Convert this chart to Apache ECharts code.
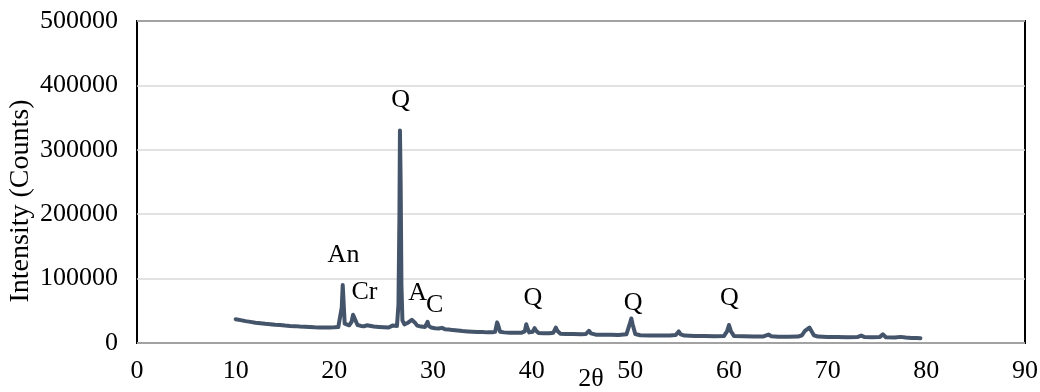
<!DOCTYPE html>
<html>
<head>
<meta charset="utf-8">
<script src="https://cdn.jsdelivr.net/npm/echarts@6/dist/echarts.min.js"></script>
<style>html,body{margin:0;padding:0;background:#fff}#c{width:1040px;height:392px}</style>
</head>
<body>
<div id="c"></div>
<script>
// 2θ positions of the pattern
const twoTheta = [10,10.5,11,11.5,12,12.5,13,13.5,14,14.5,15,15.5,16,16.5,17,17.5,18,18.5,19,19.5,20,20.4,20.6,20.75,20.85,20.95,21.05,21.2,21.5,21.75,21.9,22.0,22.15,22.35,22.7,23.0,23.3,23.5,24,24.5,25,25.5,25.9,26.1,26.35,26.5,26.6,26.65,26.72,26.8,26.9,27.1,27.4,27.6,27.85,28.0,28.15,28.4,28.8,29.2,29.35,29.45,29.55,29.8,30.2,30.6,30.9,31.2,31.6,32.0,32.5,33,33.5,34,34.5,35,35.5,36,36.3,36.5,36.6,36.8,37.2,37.8,38.4,39.0,39.3,39.45,39.55,39.75,40.1,40.3,40.45,40.7,41.2,41.8,42.2,42.45,42.6,42.9,43.5,44.2,45.0,45.5,45.8,46.0,46.5,47.2,48,48.8,49.6,49.95,50.1,50.25,50.5,51,52,53,54,54.6,54.9,55.1,55.5,56.5,57.5,58.5,59.5,59.8,60.0,60.2,60.5,61.5,62.5,63.5,64.0,64.3,65,66,67,67.4,67.7,67.9,68.15,68.3,68.6,69.0,70,71,72,73,73.4,73.7,74.5,75.3,75.6,75.9,76.8,77.4,77.6,77.9,78.5,79.0,79.4];
// Intensity (counts)
const intensity = [37000,35500,34000,32800,31500,30800,29800,29000,28200,27800,27000,26500,26200,25600,25200,24800,24400,24200,24000,24100,24300,24800,27000,55000,90000,60000,30000,27000,27500,33000,44000,45000,35000,28000,26500,26000,27500,26000,25500,25000,24500,24000,27000,26000,26500,60000,200000,330000,250000,90000,35000,29000,31000,30000,36000,37000,32000,27000,25500,25000,28000,33000,27000,24000,23000,22500,23500,21500,21000,20000,19500,18500,18000,17500,17000,17000,16500,16500,17500,32000,28000,17500,16500,16000,15800,16000,18000,29000,24000,16500,17500,23000,19000,15500,15000,15000,16000,24000,19000,14500,14000,14000,13500,14000,19000,15000,13000,12800,12800,12500,13500,30000,38000,28000,14000,12000,11800,11500,11500,12500,18000,13500,11500,11000,10800,10600,11000,18000,28000,18000,11000,10500,10000,10200,13000,10500,9800,9600,10000,12000,19000,18000,24000,22000,12000,10000,9500,9200,9000,9200,11500,9500,9000,9500,13500,9000,8500,9500,11500,8500,7800,7600,7500];
// Phase annotations
const peakNames = ['An','Cr','Q','A','C','Q','Q','Q'];
const peakX = [20.93,23.06,26.72,28.44,30.17,40.13,50.28,60.04];
const peakY = [136700,79200,377400,77650,59000,69900,62100,69900];

const FONT = 'Liberation Serif';
const FS = 26;
const chart = echarts.init(document.getElementById('c'));
chart.setOption({
  animation: false,
  backgroundColor: '#fff',
  grid: {left: 137, right: 15, top: 21, bottom: 49, outerBoundsMode: 'none', containLabel: false,
         show: true, borderColor: '#000', borderWidth: 2, backgroundColor: 'transparent'},
  xAxis: {
    type: 'value', min: 0, max: 90, interval: 10,
    name: '2θ', nameLocation: 'middle', nameGap: 23, nameMoveOverlap: false,
    nameTextStyle: {fontFamily: FONT, fontSize: FS, color: '#000', padding: [0,0,0,20]},
    axisLine: {show: false}, axisTick: {show: false}, splitLine: {show: false},
    axisLabel: {fontFamily: FONT, fontSize: FS, color: '#000', margin: 15, formatter: v => String(v)}
  },
  yAxis: {
    type: 'value', min: 0, max: 500000, interval: 100000,
    name: 'Intensity (Counts)', nameLocation: 'middle', nameGap: 102, nameRotate: 90, nameMoveOverlap: false,
    nameTextStyle: {fontFamily: FONT, fontSize: 28, color: '#000', padding: [0, 38, 0, 0]},
    axisLine: {show: false}, axisTick: {show: false},
    splitLine: {lineStyle: {color: '#d9d9d9', width: 1.5}},
    axisLabel: {fontFamily: FONT, fontSize: FS, color: '#000', margin: 19, formatter: v => String(v)}
  },
  series: [
    {
      type: 'line', data: twoTheta.map((x, i) => [x, intensity[i]]),
      showSymbol: false, symbol: 'none',
      lineStyle: {color: '#44546A', width: 4, join: 'round', cap: 'round'}
    },
    {
      type: 'scatter', symbolSize: 0, itemStyle: {opacity: 1},
      data: peakX.map((x, i) => ({value: [x, peakY[i]], name: peakNames[i]})),
      label: {show: true, position: 'inside', formatter: p => p.name, fontFamily: FONT, fontSize: FS, color: '#000', opacity: 1}
    }
  ]
});
</script>
</body>
</html>
